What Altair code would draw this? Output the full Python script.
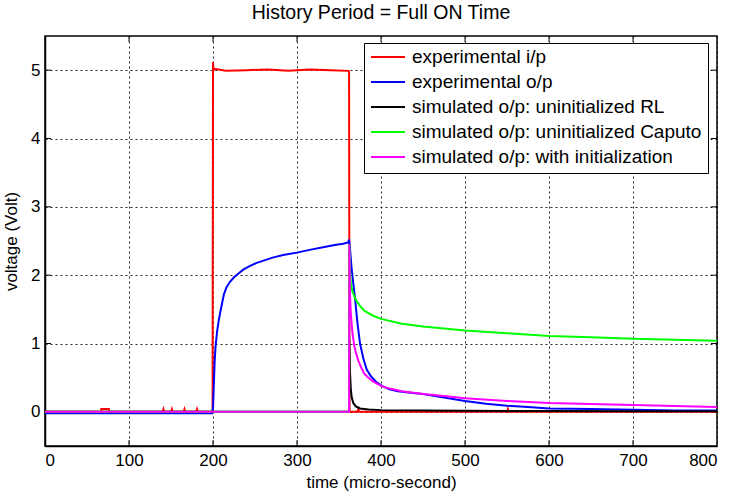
import altair as alt
import pandas as pd

FONT = "Liberation Sans"

series_names = [
    "experimental i/p",
    "experimental o/p",
    "simulated o/p: uninitialized RL",
    "simulated o/p: uninitialized Caputo",
    "simulated o/p: with initialization",
]
series_colors = ["#ff0000", "#0000ff", "#000000", "#00ff00", "#ff00ff"]

# experimental input
red_t = [0, 67, 67, 76, 76, 140, 141, 142, 150, 151, 152, 165, 166, 167, 180, 181, 182,
         199.5, 200, 200.6, 202, 215, 240, 265, 290, 315, 340, 361.5, 362, 362.5, 372, 373,
         374, 380, 550, 551, 552, 800]
red_v = [0, 0, 0.04, 0.04, 0, 0, 0.04, 0, 0, 0.04, 0, 0, 0.04, 0, 0, 0.04, 0,
         0, 5.12, 5.0, 5.02, 4.99, 5.0, 5.01, 4.99, 5.01, 5.0, 4.99, 4.97, 0, 0, 0.04,
         0, 0, 0, 0.04, 0, 0]

# experimental output
blue_t = [0, 199, 200, 201, 202, 203, 205, 207, 209, 211, 213, 216, 220, 225, 230, 236,
          243, 252, 262, 272, 285, 300, 315, 331, 345, 355, 361, 362, 363, 365, 367, 369,
          372, 375, 379, 383, 388, 394, 401, 410, 420, 435, 450, 475, 500, 525, 550, 575,
          600, 650, 700, 750, 800]
blue_v = [-0.02, -0.02, 0.05, 0.4, 0.75, 0.95, 1.19, 1.35, 1.48, 1.6, 1.72, 1.82, 1.9,
          1.97, 2.02, 2.08, 2.13, 2.18, 2.22, 2.26, 2.3, 2.33, 2.37, 2.41, 2.44, 2.46,
          2.48, 2.52, 2.4, 2.1, 1.88, 1.67, 1.3, 1.0, 0.78, 0.62, 0.52, 0.44, 0.38, 0.33,
          0.3, 0.28, 0.26, 0.21, 0.16, 0.12, 0.09, 0.07, 0.05, 0.04, 0.03, 0.02, 0.02]

# simulated RL
black_t = [0, 362, 362.3, 363, 364, 365, 367, 370, 375, 385, 400, 450, 500, 600, 700, 800]
black_v = [0, 0, 1.05, 0.6, 0.35, 0.22, 0.13, 0.08, 0.05, 0.035, 0.025, 0.02, 0.015,
           0.012, 0.01, 0.01]

# simulated Caputo
green_t = [0, 362, 362.3, 363, 364, 366, 370, 375, 380, 390, 400, 425, 450, 500, 550,
           600, 650, 700, 750, 800]
green_v = [0, 0, 2.45, 2.1, 1.88, 1.76, 1.64, 1.55, 1.48, 1.41, 1.36, 1.29, 1.25, 1.19,
           1.15, 1.11, 1.09, 1.07, 1.055, 1.04]

# simulated with initialization
mag_t = [0, 362, 362.3, 363, 364, 366, 368, 370, 373, 376, 380, 385, 390, 400, 410, 425,
         450, 475, 500, 550, 600, 650, 700, 750, 800]
mag_v = [0, 0, 2.45, 1.75, 1.45, 1.15, 0.98, 0.87, 0.75, 0.66, 0.56, 0.5, 0.45, 0.38,
         0.34, 0.3, 0.26, 0.23, 0.2, 0.16, 0.13, 0.115, 0.1, 0.085, 0.07]

x_ticks = [0, 100, 200, 300, 400, 500, 600, 700, 800]
y_ticks = [0, 1, 2, 3, 4, 5]

W, H = 672, 410

rows = []
idx = 0
for name, ts, vs in zip(series_names,
                        [red_t, blue_t, black_t, green_t, mag_t],
                        [red_v, blue_v, black_v, green_v, mag_v]):
    for t, v in zip(ts, vs):
        rows.append({"series": name, "t": t, "v": v, "i": idx})
        idx += 1
df = pd.DataFrame(rows)

xscale = alt.Scale(domain=[0, 800], nice=False, zero=False)
yscale = alt.Scale(domain=[-0.5, 5.5], nice=False, zero=False)

lines = alt.Chart(df).mark_line(strokeWidth=2, clip=True).encode(
    x=alt.X("t:Q", scale=xscale,
            axis=alt.Axis(values=x_ticks, title="time (micro-second)", format="d",
                          grid=True, ticks=False, labelPadding=6, titlePadding=6)),
    y=alt.Y("v:Q", scale=yscale,
            axis=alt.Axis(values=y_ticks, title="voltage (Volt)", format="d",
                          grid=True, ticks=False, labelPadding=5, titlePadding=10)),
    color=alt.Color("series:N",
                    scale=alt.Scale(domain=series_names, range=series_colors),
                    legend=alt.Legend(title=None, orient="none", legendX=319, legendY=7,
                                      symbolType="stroke", symbolSize=1156,
                                      symbolStrokeWidth=2, labelFontSize=19,
                                      labelFont=FONT, labelColor="black",
                                      labelLimit=400, labelOffset=6,
                                      clipHeight=16, rowPadding=6, padding=6,
                                      strokeColor="black", fillColor="white",
                                      cornerRadius=0)),
    detail="series:N",
    order=alt.Order("i:Q"),
)

xt = pd.DataFrame({"t": x_ticks[1:-1]})
yt = pd.DataFrame({"v": y_ticks})

xtick_bot = alt.Chart(xt).mark_rule(color="black", strokeWidth=1).encode(
    x=alt.X("t:Q", scale=xscale), y=alt.value(H), y2=alt.value(H - 6))
xtick_top = alt.Chart(xt).mark_rule(color="black", strokeWidth=1).encode(
    x=alt.X("t:Q", scale=xscale), y=alt.value(0), y2=alt.value(6))
ytick_l = alt.Chart(yt).mark_rule(color="black", strokeWidth=1).encode(
    y=alt.Y("v:Q", scale=yscale), x=alt.value(0), x2=alt.value(6))
ytick_r = alt.Chart(yt).mark_rule(color="black", strokeWidth=1).encode(
    y=alt.Y("v:Q", scale=yscale), x=alt.value(W), x2=alt.value(W - 6))

chart = alt.layer(xtick_bot, xtick_top, ytick_l, ytick_r, lines).properties(
    width=W, height=H,
    background="white",
    title=alt.TitleParams("History Period = Full ON Time", fontSize=19.5, font=FONT,
                          fontWeight="normal", color="black", offset=12),
    autosize=alt.AutoSizeParams(type="none"),
    padding={"left": 45, "top": 36, "right": 18, "bottom": 48},
).configure_view(
    stroke="black", strokeWidth=1.5
).configure_axis(
    labelFont=FONT, titleFont=FONT, labelFontSize=17, titleFontSize=17,
    labelColor="black", titleColor="black", titleFontWeight="normal",
    domainColor="black", domainWidth=1.5,
    gridColor="black", gridDash=[2, 3], gridOpacity=0.85, gridWidth=1,
)

chart.save("out.html", embed_options={"renderer": "svg", "actions": False})
